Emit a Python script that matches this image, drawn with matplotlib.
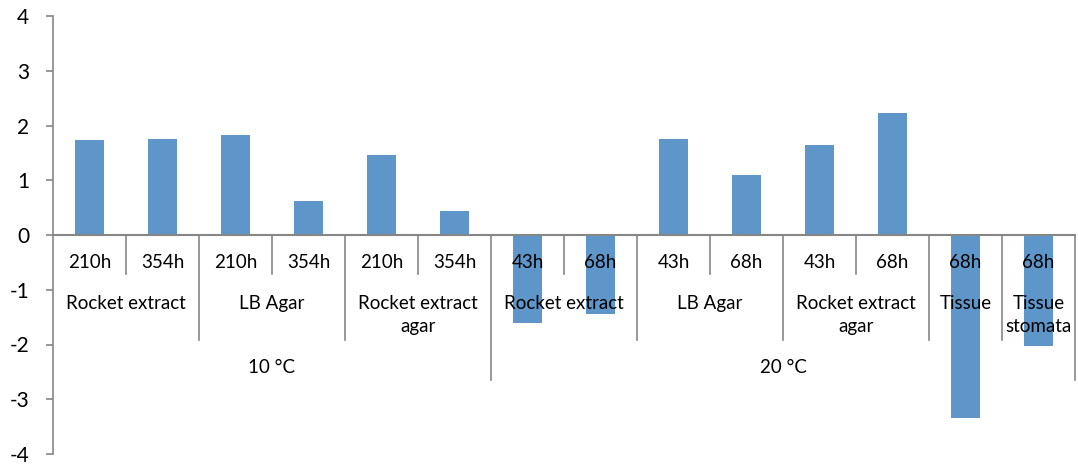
import matplotlib
matplotlib.use("Agg")
import matplotlib.pyplot as plt

# Time points per bar, grouped by medium and temperature
hours = ["210h", "354h", "210h", "354h", "210h", "354h",
         "43h", "68h", "43h", "68h", "43h", "68h", "68h", "68h"]
values = [1.74, 1.76, 1.83, 0.63, 1.47, 0.43,
          -1.61, -1.45, 1.75, 1.10, 1.65, 2.23, -3.35, -2.02]

media = ["Rocket extract", "LB Agar", "Rocket extract\nagar",
         "Rocket extract", "LB Agar", "Rocket extract\nagar",
         "Tissue", "Tissue\nstomata"]
media_sizes = [2, 2, 2, 2, 2, 2, 1, 1]

temps = ["10 °C", "20 °C"]
temp_sizes = [6, 8]

yticks = [-4, -3, -2, -1, 0, 1, 2, 3, 4]

BAR = "#5F96C9"
GRID = "#868686"
FONT = ["Lato", "DejaVu Sans"]

fig = plt.figure(figsize=(10.78, 4.66), dpi=100)
ax = fig.add_axes([53 / 1078, 12 / 466, 1022 / 1078, 438 / 466])

n = len(values)
x = list(range(n))
ax.bar([i + 0.5 for i in x], values, width=0.4, color=BAR, zorder=2)

ax.set_xlim(0, n)
ax.set_ylim(-4, 4)
ax.set_yticks(yticks)
ax.set_yticklabels([str(t) for t in yticks], fontsize=15, family=FONT)
ax.tick_params(axis="y", length=5, width=1.2, color=GRID, pad=12)
ax.set_xticks([])

for s in ("top", "right", "bottom"):
    ax.spines[s].set_visible(False)
ax.spines["left"].set_color(GRID)
ax.spines["left"].set_linewidth(1.2)

# category axis along y = 0
ax.plot([0, n], [0, 0], color=GRID, lw=1.5, zorder=3, clip_on=False)

lvl1, lvl2, lvl3 = -0.72, -1.91, -2.64
y_hours, y_media, y_temp = -0.50, -1.10, -2.42

# separators: deeper lines at higher-level boundaries
media_bounds = [0]
for s in media_sizes:
    media_bounds.append(media_bounds[-1] + s)
temp_bounds = [0]
for s in temp_sizes:
    temp_bounds.append(temp_bounds[-1] + s)

for b in range(1, n + 1):
    if b in temp_bounds:
        depth = lvl3
    elif b in media_bounds:
        depth = lvl2
    else:
        depth = lvl1
    ax.plot([b, b], [0, depth], color=GRID, lw=1.2, zorder=3, clip_on=False)

txt = dict(family=FONT, fontsize=13.5, color="black", ha="center", zorder=5,
           clip_on=False)
for i, h in enumerate(hours):
    ax.text(i + 0.5, y_hours, h, va="center", **txt)

for k, lab in enumerate(media):
    c = (media_bounds[k] + media_bounds[k + 1]) / 2
    ax.text(c, y_media, lab, va="top", linespacing=1.4, **txt)

for k, lab in enumerate(temps):
    c = (temp_bounds[k] + temp_bounds[k + 1]) / 2
    ax.text(c, y_temp, lab, va="center", **txt)

fig.savefig("out.png", dpi=100)
